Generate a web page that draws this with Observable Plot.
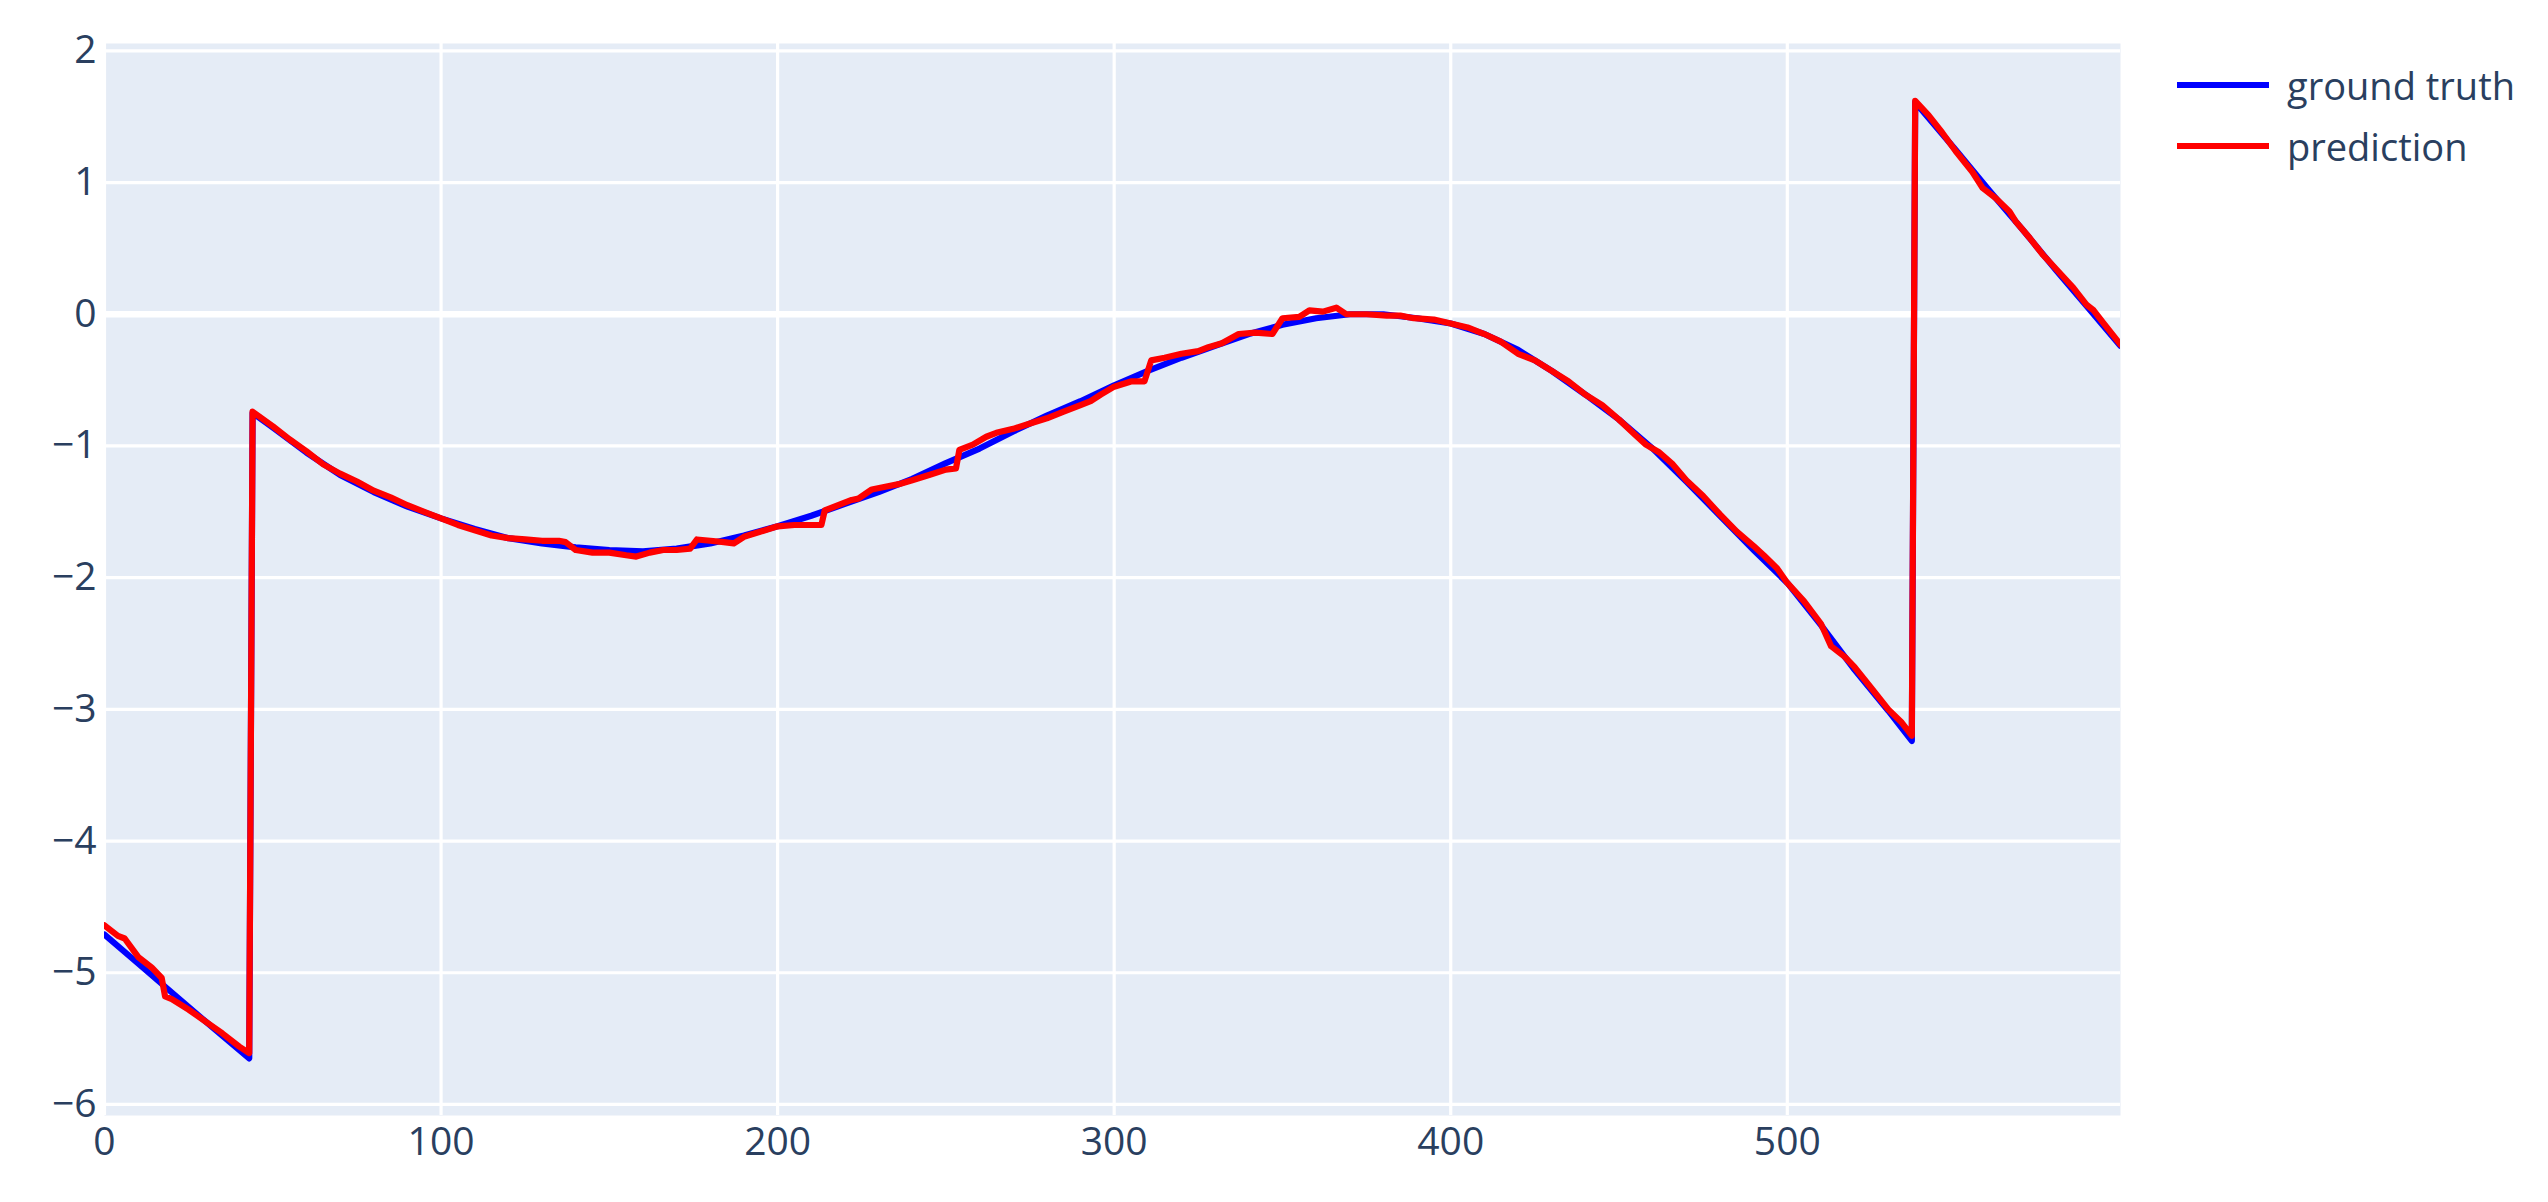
<!DOCTYPE html>
<html>
<head>
<meta charset="utf-8">
<script src="https://cdn.jsdelivr.net/npm/d3@7"></script>
<script src="https://cdn.jsdelivr.net/npm/@observablehq/plot@0.6"></script>
<style>
  html, body { margin: 0; padding: 0; background: #fff; }
  #wrap { position: relative; width: 2548px; height: 1202px; font-family: "Open Sans", "DejaVu Sans", sans-serif; }
  .leg { position: absolute; left: 2177px; display: flex; align-items: center; height: 40px; }
  .sw { width: 92px; height: 6px; margin-right: 18px; }
  .lt { font-size: 38px; color: #2a3f5f; line-height: 40px; white-space: nowrap; }
</style>
</head>
<body>
<div id="wrap"></div>
<script>
// ground truth
const truthX = [0,10,20,30,43,44,50,60,70,80,90,100,110,120,130,140,150,160,170,180,190,200,210,220,230,240,250,260,270,280,290,300,310,320,330,340,350,360,370,380,390,400,410,420,430,440,450,460,470,480,490,500,510,520,530,537,538,550,560,570,580,590,599];
const truthY = [-4.71,-4.93,-5.15,-5.37,-5.65,-0.75,-0.86,-1.05,-1.22,-1.35,-1.46,-1.55,-1.63,-1.70,-1.74,-1.77,-1.79,-1.80,-1.78,-1.74,-1.68,-1.61,-1.53,-1.44,-1.35,-1.25,-1.13,-1.02,-0.89,-0.77,-0.66,-0.54,-0.43,-0.33,-0.24,-0.15,-0.08,-0.03,0.00,0.00,-0.03,-0.07,-0.15,-0.27,-0.43,-0.61,-0.80,-1.02,-1.27,-1.53,-1.79,-2.04,-2.36,-2.70,-3.01,-3.24,1.61,1.25,0.94,0.64,0.33,0.03,-0.24];

// prediction
const predX = [0,4,6,10,14,17,18,20,25,30,35,40,43,44,50,55,60,65,70,75,80,85,90,95,100,105,110,115,120,125,130,135,137,140,145,150,155,158,162,166,170,174,176,180,184,187,190,195,200,205,210,213,214,218,222,224,228,232,236,240,245,250,253,254,258,262,265,270,275,280,285,290,293,296,300,305,309,311,315,320,325,328,332,337,342,347,350,355,358,362,366,369,375,381,385,389,395,400,405,410,415,420,425,430,435,440,445,450,455,458,462,466,470,475,480,485,490,493,497,500,505,510,513,517,520,525,530,534,537,538,542,546,550,555,558,562,566,568,572,576,580,585,589,591,594,599];
const predY = [-4.64,-4.72,-4.74,-4.88,-4.96,-5.04,-5.18,-5.20,-5.28,-5.37,-5.46,-5.56,-5.61,-0.74,-0.85,-0.95,-1.04,-1.14,-1.21,-1.27,-1.34,-1.39,-1.45,-1.50,-1.55,-1.60,-1.64,-1.68,-1.70,-1.71,-1.72,-1.72,-1.73,-1.79,-1.81,-1.81,-1.83,-1.84,-1.81,-1.79,-1.79,-1.78,-1.71,-1.72,-1.73,-1.74,-1.69,-1.65,-1.61,-1.60,-1.60,-1.60,-1.49,-1.45,-1.41,-1.40,-1.33,-1.31,-1.29,-1.26,-1.22,-1.18,-1.17,-1.03,-0.99,-0.93,-0.90,-0.87,-0.83,-0.79,-0.74,-0.69,-0.66,-0.61,-0.55,-0.51,-0.51,-0.35,-0.33,-0.30,-0.28,-0.25,-0.22,-0.15,-0.14,-0.15,-0.03,-0.02,0.03,0.02,0.05,0.00,0.00,-0.01,-0.01,-0.03,-0.04,-0.07,-0.10,-0.15,-0.21,-0.30,-0.35,-0.43,-0.51,-0.61,-0.69,-0.80,-0.92,-0.99,-1.05,-1.14,-1.26,-1.38,-1.52,-1.65,-1.76,-1.83,-1.93,-2.04,-2.18,-2.35,-2.52,-2.60,-2.68,-2.84,-3.00,-3.10,-3.20,1.62,1.51,1.38,1.24,1.08,0.96,0.88,0.78,0.70,0.58,0.45,0.34,0.20,0.07,0.03,-0.07,-0.23];

const xTicks = [0,100,200,300,400,500];
const yTicks = [-6,-5,-4,-3,-2,-1,0,1,2];
const seriesNames = ["ground truth", "prediction"];
const seriesColors = ["#0000ff", "#ff0000"];

const truth = truthX.map((x, i) => ({x, y: truthY[i]}));
const pred = predX.map((x, i) => ({x, y: predY[i]}));

const textColor = "#2a3f5f";
const intFmt = d3.format("d");

const chart = Plot.plot({
  width: 2548,
  height: 1202,
  marginLeft: 104,
  marginRight: 428,
  marginTop: 43,
  marginBottom: 87,
  style: {fontFamily: "'Open Sans', 'DejaVu Sans', sans-serif", fontSize: "38px", color: textColor, background: "transparent"},
  x: {domain: [0, 599], label: null},
  y: {domain: [-6.084, 2.056], label: null},
  marks: [
    Plot.frame({fill: "#E5ECF6", stroke: null}),
    Plot.gridX(xTicks, {stroke: "#ffffff", strokeOpacity: 1, strokeWidth: 3.2}),
    Plot.gridY(yTicks, {stroke: "#ffffff", strokeOpacity: 1, strokeWidth: 3.2}),
    Plot.ruleY([0], {stroke: "#ffffff", strokeWidth: 6.4}),
    Plot.axisX(xTicks, {tickSize: 0, tickPadding: 12, fontSize: 39, fill: textColor, label: null, tickFormat: intFmt}),
    Plot.axisY(yTicks, {tickSize: 0, tickPadding: 8, fontSize: 39, fill: textColor, label: null, tickFormat: intFmt}),
    Plot.line(truth, {x: "x", y: "y", stroke: seriesColors[0], strokeWidth: 6.2, clip: true}),
    Plot.line(pred, {x: "x", y: "y", stroke: seriesColors[1], strokeWidth: 6.2, clip: true})
  ]
});

const wrap = document.getElementById("wrap");
wrap.appendChild(chart);
chart.style.position = "absolute";
chart.style.left = "0px";
chart.style.top = "0px";

const legendTops = [65, 126];
seriesNames.forEach((name, i) => {
  const row = document.createElement("div");
  row.className = "leg";
  row.style.top = legendTops[i] + "px";
  const sw = document.createElement("div");
  sw.className = "sw";
  sw.style.background = seriesColors[i];
  const t = document.createElement("span");
  t.className = "lt";
  t.textContent = name;
  row.appendChild(sw);
  row.appendChild(t);
  wrap.appendChild(row);
});
</script>
</body>
</html>
